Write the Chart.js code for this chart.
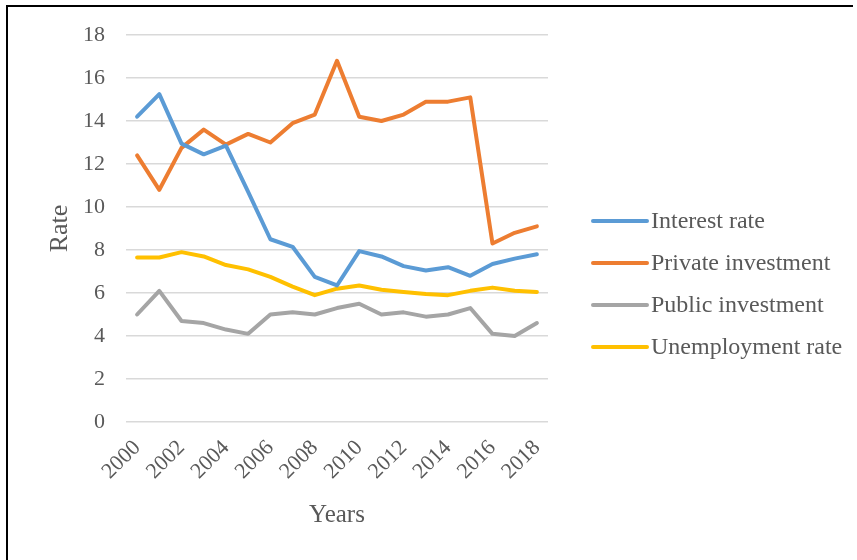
<!DOCTYPE html>
<html>
<head>
<meta charset="utf-8">
<script src="https://cdn.jsdelivr.net/npm/chart.js@4.4.0/dist/chart.umd.min.js"></script>
<style>
  html, body { margin: 0; padding: 0; background: #fff; }
  #wrap { width: 857px; height: 560px; }
</style>
</head>
<body>
<div id="wrap"><canvas id="myChart" width="857" height="560"></canvas></div>
<script>
"use strict";

const years = ["2000", "2001", "2002", "2003", "2004", "2005", "2006", "2007", "2008", "2009",
  "2010", "2011", "2012", "2013", "2014", "2015", "2016", "2017", "2018"];
const interestRate = [14.2, 15.25, 12.95, 12.45, 12.85, 10.7, 8.5, 8.15, 6.75, 6.35,
  7.95, 7.7, 7.25, 7.05, 7.2, 6.8, 7.35, 7.6, 7.8];
const privateInvestment = [12.4, 10.8, 12.75, 13.6, 12.9, 13.4, 13.0, 13.9, 14.3, 16.8,
  14.2, 14.0, 14.3, 14.9, 14.9, 15.1, 8.3, 8.8, 9.1];
const publicInvestment = [5.0, 6.1, 4.7, 4.6, 4.3, 4.1, 5.0, 5.1, 5.0, 5.3,
  5.5, 5.0, 5.1, 4.9, 5.0, 5.3, 4.1, 4.0, 4.6];
const unemploymentRate = [7.65, 7.65, 7.9, 7.7, 7.3, 7.1, 6.75, 6.3, 5.9, 6.2,
  6.35, 6.15, 6.05, 5.95, 5.9, 6.1, 6.25, 6.1, 6.05];
const yTicks = [0, 2, 4, 6, 8, 10, 12, 14, 16, 18];

const serif = "'Liberation Serif', 'Times New Roman', serif";
const textColor = "#595959";

// legend on the right plus the partial frame around the figure
const sideLegend = {
  id: "sideLegend",
  afterDraw(chart) {
    const c = chart.ctx;
    const area = chart.chartArea;
    c.save();
    c.strokeStyle = "#000";
    c.lineWidth = 2;
    c.beginPath();
    c.moveTo(7, 560);
    c.lineTo(7, 6);
    c.lineTo(853, 6);
    c.stroke();

    const x0 = area.right + 45;
    let y = 221;
    c.font = "24px " + serif;
    c.textBaseline = "middle";
    c.lineCap = "round";
    chart.data.datasets.forEach((ds) => {
      c.strokeStyle = ds.borderColor;
      c.lineWidth = 4;
      c.beginPath();
      c.moveTo(x0, y);
      c.lineTo(x0 + 54, y);
      c.stroke();
      c.fillStyle = textColor;
      c.fillText(ds.label, x0 + 58, y + 1);
      y += 42;
    });
    c.restore();
  },
};

const mk = (label, data, color) => ({
  label,
  data,
  borderColor: color,
  backgroundColor: color,
  borderWidth: 4,
  pointRadius: 0,
  tension: 0,
  borderCapStyle: "round",
  borderJoinStyle: "round",
});

const ctx = document.getElementById("myChart").getContext("2d");
const myChart = new Chart(ctx, {
  type: "line",
  data: {
    labels: years,
    datasets: [
      mk("Interest rate", interestRate, "#5B9BD5"),
      mk("Private investment", privateInvestment, "#ED7D31"),
      mk("Public investment", publicInvestment, "#A5A5A5"),
      mk("Unemployment rate", unemploymentRate, "#FFC000"),
    ],
  },
  options: {
    responsive: false,
    animation: false,
    layout: { padding: { top: 35, right: 309, bottom: 0, left: 0 } },
    plugins: {
      legend: { display: false },
      tooltip: { enabled: false },
    },
    scales: {
      x: {
        offset: true,
        grid: { display: false },
        border: { display: false },
        ticks: {
          color: textColor,
          font: { family: serif, size: 22 },
          maxRotation: 45,
          minRotation: 45,
          autoSkip: false,
          padding: 5,
          callback: (v, i) => (i % 2 === 0 ? years[i] : ""),
        },
        title: {
          display: true,
          text: "Years",
          color: textColor,
          font: { family: serif, size: 25 },
          padding: { top: 0, bottom: 30 },
        },
        afterFit: (s) => { s.height = 138; },
      },
      y: {
        min: 0,
        max: 18,
        afterBuildTicks: (s) => { s.ticks = yTicks.map((v) => ({ value: v })); },
        grid: { color: "#d9d9d9", lineWidth: 1.5, drawTicks: false },
        border: { display: false },
        ticks: {
          color: textColor,
          font: { family: serif, size: 22 },
          padding: 21,
        },
        title: {
          display: true,
          text: "Rate",
          color: textColor,
          font: { family: serif, size: 26 },
          padding: { top: 45, bottom: 0 },
        },
        afterFit: (s) => { s.width = 126; },
      },
    },
  },
  plugins: [sideLegend],
});
</script>
</body>
</html>
